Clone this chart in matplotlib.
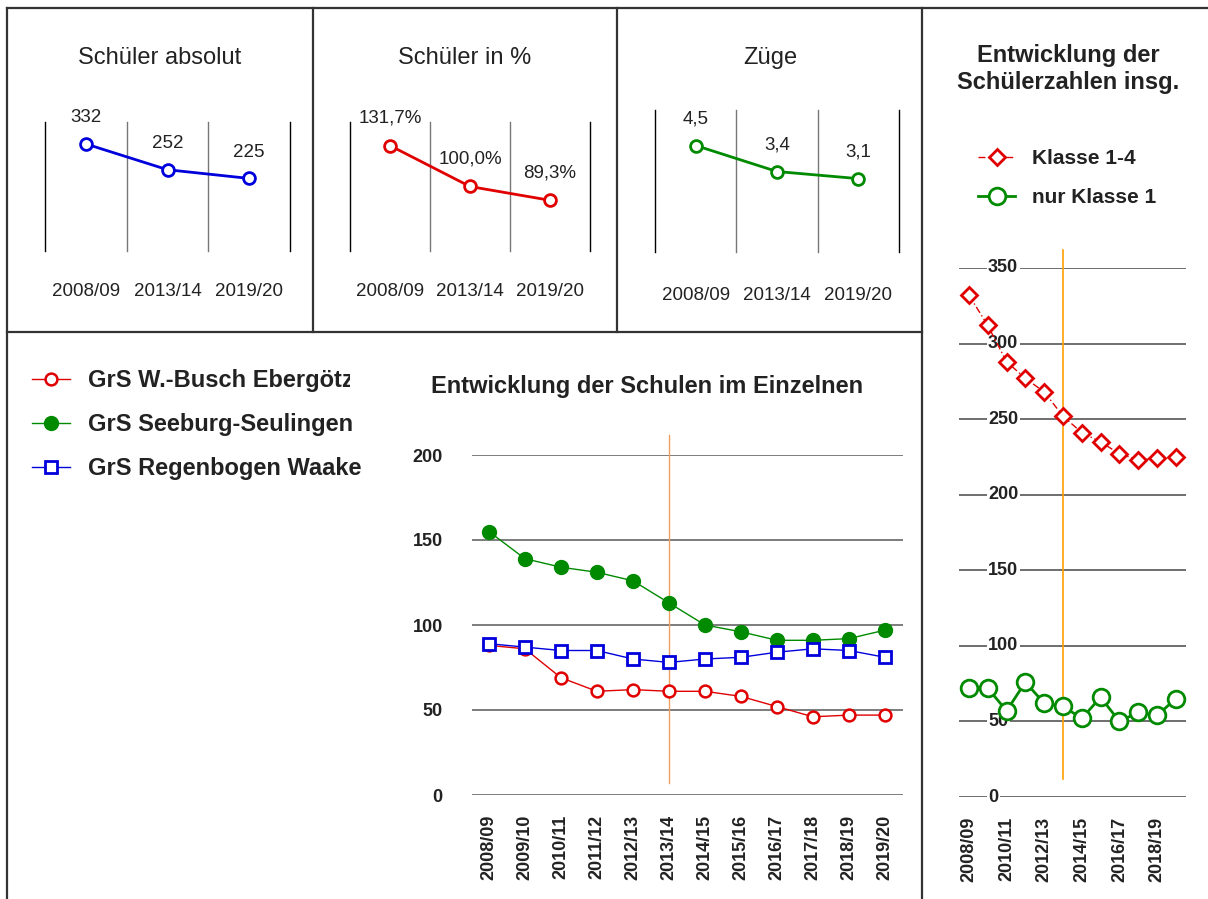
import matplotlib
matplotlib.use('Agg')
import matplotlib.pyplot as plt
from matplotlib.lines import Line2D
from matplotlib.transforms import Bbox, TransformedBbox, blended_transform_factory

plt.rcParams['font.family'] = ['Liberation Sans', 'DejaVu Sans']

W, H, DPI = 1208, 899, 100
TXT = '#222222'

# ---------------- data ----------------
summary_years = ['2008/09', '2013/14', '2019/20']
students_abs = [332, 252, 225]
students_abs_labels = ['332', '252', '225']
students_pct = [131.7, 100.0, 89.3]
students_pct_labels = ['131,7%', '100,0%', '89,3%']
streams = [4.5, 3.4, 3.1]
streams_labels = ['4,5', '3,4', '3,1']

years = ['2008/09', '2009/10', '2010/11', '2011/12', '2012/13', '2013/14',
         '2014/15', '2015/16', '2016/17', '2017/18', '2018/19', '2019/20']
school_ebergoetzen = [88, 86, 69, 61, 62, 61, 61, 58, 52, 46, 47, 47]
school_seeburg = [155, 139, 134, 131, 126, 113, 100, 96, 91, 91, 92, 97]
school_waake = [89, 87, 85, 85, 80, 78, 80, 81, 84, 86, 85, 81]
total_grades_1_4 = [332, 312, 288, 277, 268, 252, 241, 235, 227, 223, 224, 225]
total_grade_1 = [72, 72, 57, 76, 62, 60, 52, 66, 50, 56, 54, 65]
reference_year = '2013/14'

school_names = ['GrS W.-Busch Ebergötz', 'GrS Seeburg-Seulingen', 'GrS Regenbogen Waake']
total_names = ['Klasse 1-4', 'nur Klasse 1']

RED, GREEN, BLUE = '#E00000', '#008A00', '#0000DD'

fig = plt.figure(figsize=(W / DPI, H / DPI), dpi=DPI)


def px_rect(x0, y0, x1, y1):
    return [x0 / W, 1 - y1 / H, (x1 - x0) / W, (y1 - y0) / H]


def fx(x):
    return x / W


def fy(y):
    return 1 - y / H


# ---------------- panel borders ----------------
border_kw = dict(color='#333333', lw=1.6, transform=fig.transFigure)
for (x0, y0, x1, y1) in [(7, 8, 1208, 8), (7, 8, 7, 899), (313, 8, 313, 332),
                         (617, 8, 617, 332), (922, 8, 922, 899), (7, 332, 922, 332)]:
    fig.add_artist(Line2D([fx(x0), fx(x1)], [fy(y0), fy(y1)], **border_kw))


# ---------------- small summary panels ----------------
def small_panel(rect, values, labels, ylim, color, title, title_x, label_pad, lab_off):
    ax = fig.add_axes(rect)
    xs = range(len(values))
    ax.plot(xs, values, color=color, lw=2, marker='o', ms=8.5, mfc='white',
            mec=color, mew=2, zorder=3, clip_on=False)
    n = len(values)
    for i in range(n + 1):
        ax.axvline(i - 0.5, color='black' if i in (0, n) else '#777777', lw=1, zorder=1,
                   clip_on=False)
    ax.set_xlim(-0.5, n - 0.5)
    ax.set_ylim(*ylim)
    for s in ax.spines.values():
        s.set_visible(False)
    ax.set_yticks([])
    ax.set_xticks(list(xs), summary_years)
    ax.tick_params(axis='x', length=0, pad=label_pad, labelsize=13.5, labelcolor=TXT)
    for xi, v, lab in zip(xs, values, labels):
        ax.annotate(lab, (xi, v), xytext=(0, lab_off), textcoords='offset points',
                    ha='center', va='center', fontsize=13.5, color=TXT)
    fig.text(fx(title_x), fy(58), title, ha='center', va='center', fontsize=17, color=TXT)
    return ax


small_panel(px_rect(45, 122, 290, 251), students_abs, students_abs_labels, (0, 400),
            BLUE, 'Schüler absolut', 160, 23, 19)
small_panel(px_rect(350, 122, 590, 251), students_pct, students_pct_labels, (50, 150),
            RED, 'Schüler in %', 465, 23, 20)
small_panel(px_rect(655, 110, 899, 252), streams, streams_labels, (0, 6),
            GREEN, 'Züge', 770, 25, 19)

# ---------------- schools chart ----------------
ax = fig.add_axes(px_rect(472, 455, 903, 795))
xs = range(len(years))
l1, = ax.plot(xs, school_ebergoetzen, color=RED, lw=1, marker='o', ms=8.5, mfc='white',
              mec=RED, mew=1.8, zorder=3, label=school_names[0])
l2, = ax.plot(xs, school_seeburg, color=GREEN, lw=1, marker='o', ms=10, mfc=GREEN,
              mec=GREEN, zorder=4, label=school_names[1])
l3, = ax.plot(xs, school_waake, color=BLUE, lw=1, marker='s', ms=8, mfc='white',
              mec=BLUE, mew=2, zorder=5, label=school_names[2])
ri = years.index(reference_year)
ax.plot([ri, ri], [7, 212], color='#EFA060', lw=1, clip_on=False, zorder=2)
ax.set_xlim(-0.47, len(years) - 0.5)
ax.set_ylim(0, 200)
for s in ax.spines.values():
    s.set_visible(False)
ax.set_yticks([0, 50, 100, 150, 200])
ax.yaxis.grid(True, color='#666666', lw=1.2)
ax.set_axisbelow(True)
ax.set_xticks(list(xs), years, rotation=90)
ax.tick_params(axis='both', length=0, labelsize=13, labelcolor=TXT)
ax.tick_params(axis='y', pad=21)
ax.tick_params(axis='x', pad=14)
for t in ax.get_xticklabels() + ax.get_yticklabels():
    t.set_fontweight('bold')
fig.text(fx(647), fy(386), 'Entwicklung der Schulen im Einzelnen', ha='center', va='center',
         fontsize=17, fontweight='bold', color=TXT)

leg = fig.legend(handles=[l1, l2, l3], loc='upper left', bbox_to_anchor=(fx(32), fy(369)),
                 frameon=False, borderpad=0, borderaxespad=0, handlelength=1.6,
                 handletextpad=0.76, labelspacing=0.9,
                 prop=dict(size=17, weight='bold'))
for t in leg.get_texts():
    t.set_color(TXT)
clip = TransformedBbox(Bbox.from_extents(0, 0, fx(350), 1), fig.transFigure)
leg.get_texts()[0].set_clip_on(True)
leg.get_texts()[0].set_clip_box(clip)

# ---------------- totals chart ----------------
ax2 = fig.add_axes(px_rect(959, 268, 1186, 797))
k1, = ax2.plot(xs, total_grades_1_4, color=RED, lw=1, ls=(0, (5, 2, 1, 2)), marker='D',
               ms=8.5, mfc='white', mec=RED, mew=2, zorder=4, label=total_names[0])
k2, = ax2.plot(xs, total_grade_1, color=GREEN, lw=2, marker='o', ms=12, mfc='white',
               mec=GREEN, mew=2, zorder=4, label=total_names[1])
ax2.plot([ri, ri], [12, 362], color='#FFA000', lw=1.2, clip_on=False, zorder=2)
ax2.set_xlim(-0.53, len(years) - 0.46)
ax2.set_ylim(0, 350)
for s in ax2.spines.values():
    s.set_visible(False)
ax2.set_yticks([0, 50, 100, 150, 200, 250, 300, 350])
ax2.yaxis.grid(True, color='#555555', lw=1.2)
ax2.set_axisbelow(True)
ax2.tick_params(axis='y', left=False, labelleft=False)
ax2.set_xticks(list(xs)[::2], years[::2], rotation=90)
ax2.tick_params(axis='x', length=0, pad=14, labelsize=13, labelcolor=TXT)
for t in ax2.get_xticklabels():
    t.set_fontweight('bold')
tr = blended_transform_factory(ax2.transAxes, ax2.transData)
for v in ax2.get_yticks():
    ax2.text(0.128, v, f'{int(v)}', transform=tr, ha='left', va='center', fontsize=13,
             fontweight='bold', color=TXT, zorder=3,
             bbox=dict(facecolor='white', edgecolor='none', pad=1))

fig.text(fx(1068), fy(69), 'Entwicklung der\nSchülerzahlen insg.', ha='center', va='center',
         fontsize=17, fontweight='bold', color=TXT, linespacing=1.2)
leg2 = fig.legend(handles=[k1, k2], loc='upper left', bbox_to_anchor=(fx(978), fy(149)),
                  frameon=False, borderpad=0, borderaxespad=0, handlelength=1.78,
                  handletextpad=0.82, labelspacing=0.97, prop=dict(size=15, weight='bold'))
for t in leg2.get_texts():
    t.set_color(TXT)

fig.savefig('out.png', dpi=DPI)
